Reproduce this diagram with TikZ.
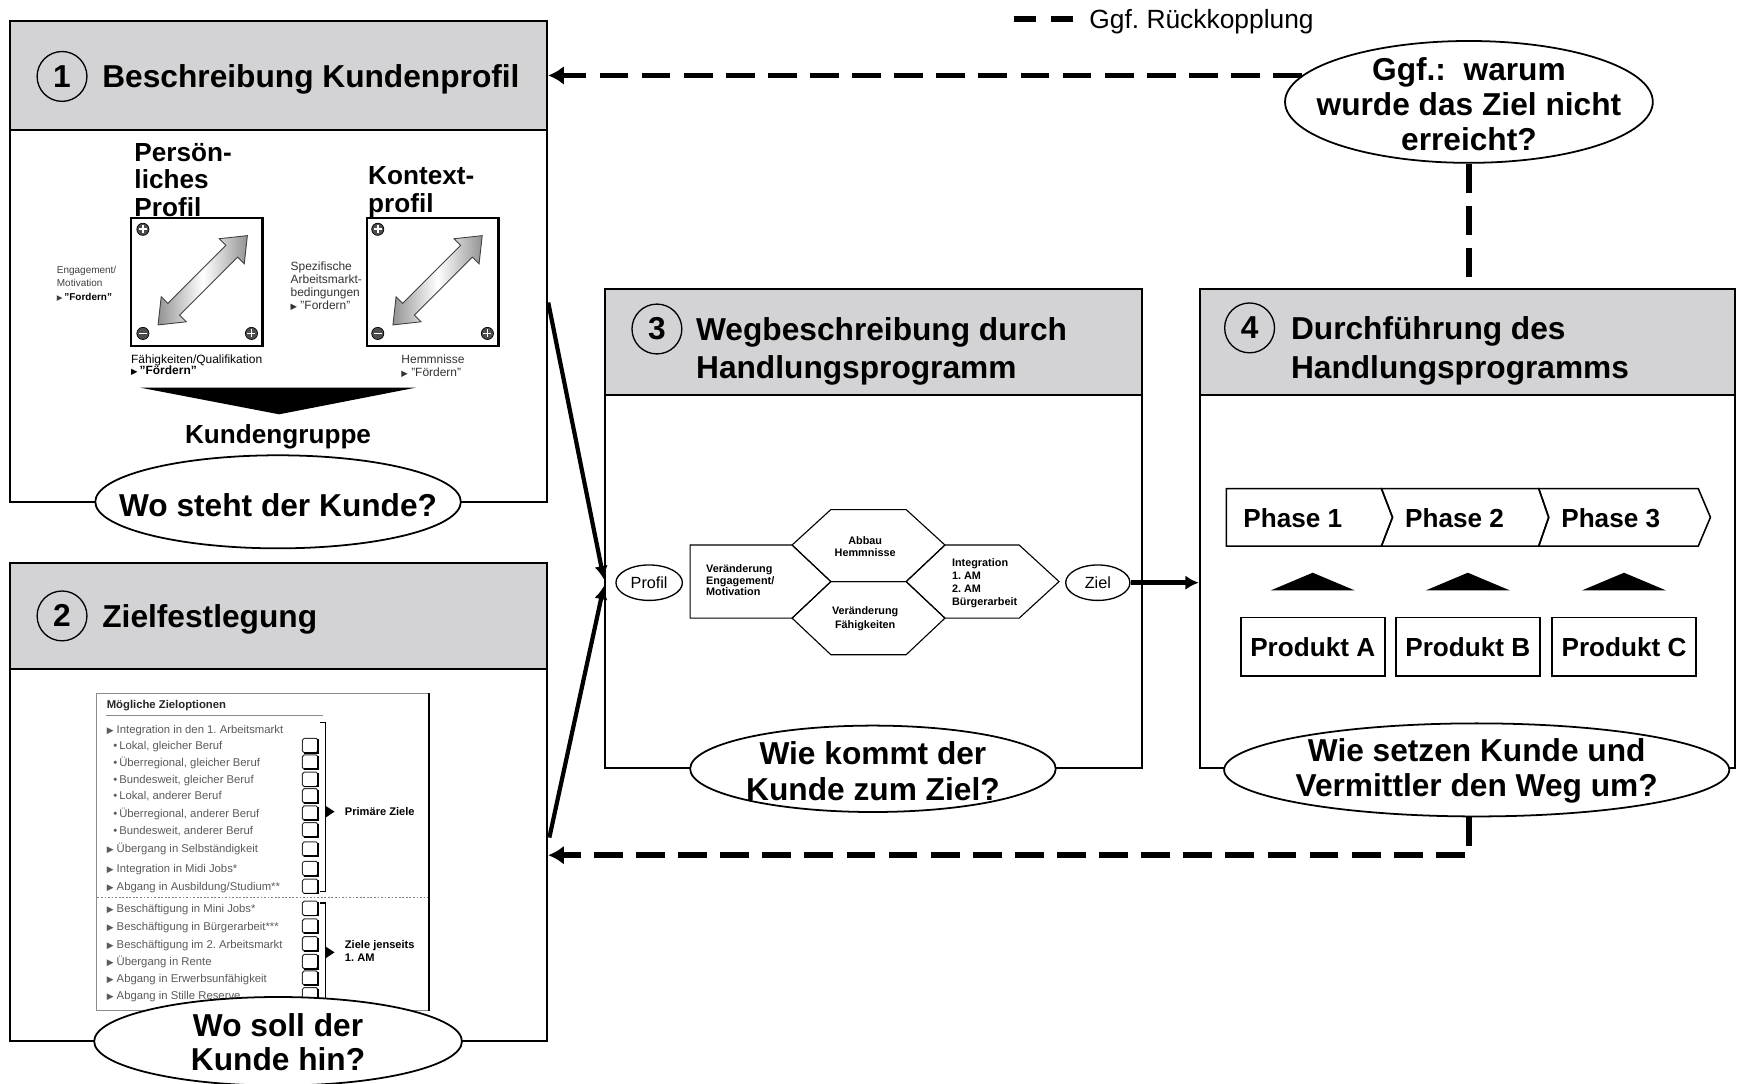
\documentclass[tikz,border=0pt]{standalone}
\usepackage{fontspec}
\setmainfont{Liberation Sans}
\newfontfamily\arrowglyphs{DejaVu Sans}
\usetikzlibrary{arrows.meta,shapes.geometric,fit,calc}
\definecolor{hdrgray}{RGB}{211,211,213}
\definecolor{listgray}{RGB}{90,90,90}
\newcommand\fs[2]{\fontsize{#1}{#2}\selectfont}
\newcommand\tri[1]{{\arrowglyphs\fontsize{#1}{#1}\selectfont ▶}}
\frenchspacing

\begin{document}
\begin{tikzpicture}[x=0.5pt,y=-0.5pt,
  panelbox/.style={draw, fill=white, line width=0.9pt, inner sep=0pt},
  hdrbox/.style={draw, fill=hdrgray, line width=0.9pt, inner sep=0pt},
  numc/.style={circle, draw, line width=0.6pt, minimum size=22.5pt, inner sep=0pt, font={\fs{14.3}{16}\bfseries}},
  ttl/.style={anchor=base west, align=left, inner sep=0pt, font={\fs{14.3}{17.5}\bfseries}},
  subttl/.style={anchor=base west, align=left, inner sep=0pt, font={\fs{11.8}{12.5}\bfseries}},
  qell/.style={ellipse, draw, fill=white, line width=0.8pt, inner sep=0pt},
  qtext/.style={align=center, inner sep=0pt, font={\fs{14.3}{16}\bfseries}},
  lbl/.style={anchor=base west, align=left, inner sep=0pt},
  clitem/.style={anchor=base west, inner sep=0pt, font={\fs{5.1}{6}}, text=listgray},
  cbx/.style={draw=black!80, line width=0.45pt, fill=white, rounded corners=0.8pt},
  hexline/.style={draw, line width=0.5pt},
  hextext/.style={inner sep=0pt, font={\fs{4.9}{5.5}\bfseries}},
  smallell/.style={ellipse, draw, line width=0.6pt, inner sep=0pt, minimum width=30pt, minimum height=16pt, font={\fs{7.3}{8}}},
  chev/.style={draw, line width=0.7pt},
  phs/.style={anchor=base west, inner sep=0pt, font={\fs{11.8}{13}\bfseries}},
  prod/.style={draw, line width=0.8pt, minimum width=65pt, minimum height=26.5pt, inner sep=0pt, font={\fs{11.8}{13}\bfseries}},
  fbline/.style={line width=2.5pt, dash pattern=on 13pt off 6pt},
  fbtip/.style={-{Latex[length=7pt,width=8.5pt]}},
  solidarr/.style={line width=1.9pt, -{Latex[length=6pt,width=6pt]}},
  pluscirc/.pic={\fill[gray!60!black] (0,0) circle (5.5);
    \draw[line width=0.3pt] (0,0) circle (5.5);
    \draw[white, line width=0.8pt] (-3.6,0) -- (3.6,0) (0,-3.6) -- (0,3.6);},
  minuscirc/.pic={\fill[gray!60!black] (0,0) circle (5.5);
    \draw[line width=0.3pt] (0,0) circle (5.5);
    \draw[white, line width=0.8pt] (-3.6,0) -- (3.6,0);},
  dblarrow/.pic={\shade[left color=gray!85, right color=gray!85, middle color=white,
      draw=black!75, line width=0.4pt]
      (-57,0) -- (-37,16) -- (-37,7.5) -- (37,7.5) -- (37,16) -- (57,0)
      -- (37,-16) -- (37,-7.5) -- (-37,-7.5) -- (-37,-16) -- cycle;}
]
\useasboundingbox (0,0) rectangle (1568,978);

% legend
\coordinate (lg1) at (915,17);
\coordinate (lg2) at (970,17);
\draw[line width=2.5pt, dash pattern=on 10pt off 7pt] (lg1) -- (lg2);
\node[anchor=base west, inner sep=0pt, font={\fs{11.9}{14}}] (lgt) at (983,25.5) {Ggf. Rückkopplung};

% ---------- panel 1: customer profile
\node[panelbox, fit={(9,19)(494,453)}] (p1) {};
\node[hdrbox, fit={(9,19)(494,117)}] (h1) {};
\node[numc] (n1) at (56,69) {1};
\node[ttl] (t1) at (92,79) {Beschreibung Kundenprofil};

\node[subttl] (pp) at (121,195.5) {Persön-\\liches\\Profil};
\node[subttl] (kp) at (332,191.5) {Kontext-\\profil};

\node[draw, line width=1pt, inner sep=0pt, fit={(118,197)(237,312)}] (pb1) {};
\node[draw, line width=1pt, inner sep=0pt, fit={(331,197)(450,312)}] (pb2) {};
\pic[rotate=45] at (183,253) {dblarrow};
\pic[rotate=45] at (395,253) {dblarrow};
\pic at (129,207) {pluscirc};
\pic at (129,301) {minuscirc};
\pic at (227,301) {pluscirc};
\pic at (341,207) {pluscirc};
\pic at (341,301) {minuscirc};
\pic at (440,301) {pluscirc};

\node[lbl, font={\fs{4.5}{6}}, text=black!75] (lb1) at (51,271) {Engagement/\\Motivation\\\tri{3.4}\,\textcolor{black}{\textbf{"Fordern"}}};
\node[lbl, font={\fs{5.4}{5.8}}, text=black!80] (lb2) at (262,279) {Spezifische\\Arbeitsmarkt-\\bedingungen\\\tri{3.8}\ "Fordern"};
\node[lbl, font={\fs{5.4}{5.1}}] (lb3) at (118,338) {Fähigkeiten/Qualifikation\\\tri{3.8}\,\textbf{"Fördern"}};
\node[lbl, font={\fs{5.4}{5.8}}, text=black!80] (lb4) at (362,339.5) {Hemmnisse\\\tri{3.8}\ "Fördern"};

\fill (127,350) -- (375,350) -- (252,374) -- cycle;
\node[subttl, anchor=base] (kg) at (251,400.5) {Kundengruppe};
\node[qell, minimum width=165pt, minimum height=42pt] (q1) at (251,453) {};
\node[qtext] (q1t) at (251,456) {Wo steht der Kunde?};

% ---------- panel 2: goal setting
\node[panelbox, fit={(9,508)(494,940)}] (p2) {};
\node[hdrbox, fit={(9,508)(494,604)}] (h2) {};
\node[numc] (n2) at (56,556) {2};
\node[ttl] (t2) at (92,566) {Zielfestlegung};

\node[draw=black!45, line width=0.4pt, inner sep=0pt, fill=white, fit={(87,626)(387,912)}] (cl) {};
\draw[line width=1pt] (cl.north east) -- (cl.south east);
\node[anchor=base west, inner sep=0pt, font={\fs{5.1}{6}\bfseries}, text=black!85] (clt) at (96,639.5) {Mögliche Zieloptionen};
\draw[black!45, line width=0.5pt] (96,646) -- (292,646);

\node[clitem] (c1) at (96,662) {\tri{4} Integration in den 1. Arbeitsmarkt};
\node[clitem] (c2) at (102,677) {•\,Lokal, gleicher Beruf};
\node[clitem] (c3) at (102,691.5) {•\,Überregional, gleicher Beruf};
\node[clitem] (c4) at (102,707) {•\,Bundesweit, gleicher Beruf};
\node[clitem] (c5) at (102,722) {•\,Lokal, anderer Beruf};
\node[clitem] (c6) at (102,738) {•\,Überregional, anderer Beruf};
\node[clitem] (c7) at (102,753) {•\,Bundesweit, anderer Beruf};
\node[clitem] (c8) at (96,770) {\tri{4} Übergang in Selbständigkeit};
\node[clitem] (c9) at (96,787.5) {\tri{4} Integration in Midi Jobs*};
\node[clitem] (c10) at (96,803.5) {\tri{4} Abgang in Ausbildung/Studium**};
\node[clitem] (c11) at (96,823.5) {\tri{4} Beschäftigung in Mini Jobs*};
\node[clitem] (c12) at (96,840) {\tri{4} Beschäftigung in Bürgerarbeit***};
\node[clitem] (c13) at (96,856) {\tri{4} Beschäftigung im 2. Arbeitsmarkt};
\node[clitem] (c14) at (96,871.5) {\tri{4} Übergang in Rente};
\node[clitem] (c15) at (96,887) {\tri{4} Abgang in Erwerbsunfähigkeit};
\node[clitem] (c16) at (96,902) {\tri{4} Abgang in Stille Reserve};

\draw[black!50, line width=0.5pt, dash pattern=on 0.8pt off 0.8pt] (88,810) -- (386,810);

\foreach \y in {673,688,703.5,718.5,734,749,766.5,784,800,820,836,852,868,883,898}{
  \draw[cbx] (273,\y-6.5) rectangle (287,\y+6.5);
  \draw[line width=0.8pt] (274,\y+6.5) -- (287,\y+6.5) -- (287,\y-5.5);
}

\draw[line width=0.6pt] (289,652) -- (294,652) -- (294,805) -- (289,805);
\fill (294,727.5) -- (302,732.7) -- (294,738) -- cycle;
\node[anchor=base west, inner sep=0pt, font={\fs{5}{6}\bfseries}] (pz) at (311,736.3) {Primäre Ziele};
\draw[line width=0.6pt] (289,815) -- (294,815) -- (294,912);
\fill (294,854.5) -- (302,859.7) -- (294,865) -- cycle;
\node[anchor=base west, align=left, inner sep=0pt, font={\fs{5}{6}\bfseries}] (zj) at (311,868) {Ziele jenseits\\1. AM};

\node[qell, minimum width=166pt, minimum height=40pt] (q2) at (251,940) {};
\node[qtext, font={\fs{14.3}{15.5}\bfseries}] (q2t) at (251,941) {Wo soll der\\Kunde hin?};

% ---------- panel 3: route via action programme
\node[panelbox, fit={(546,261)(1031,693)}] (p3) {};
\node[hdrbox, fit={(546,261)(1031,357)}] (h3) {};
\node[numc] (n3) at (593,297) {3};
\node[ttl] (t3) at (628,342) {Wegbeschreibung durch\\Handlungsprogramm};

\draw[hexline] (623,492) -- (715,492) -- (750,525) -- (715,558) -- (623,558) -- cycle;
\draw[hexline] (715,492) -- (750,460) -- (818,460) -- (853,492) -- (818,525) -- (750,525) -- cycle;
\draw[hexline] (715,558) -- (750,525) -- (818,525) -- (853,558) -- (818,591) -- (750,591) -- cycle;
\draw[hexline] (818,525) -- (853,492) -- (920,492) -- (956,525) -- (920,558) -- (853,558) -- cycle;

\node[hextext, align=center, anchor=base] (hx1) at (781,502.5) {Abbau\\Hemmnisse};
\node[hextext, align=left, anchor=base west, font={\fs{4.9}{5.1}\bfseries}] (hx2) at (637,537.5) {Veränderung\\Engagement/\\Motivation};
\node[hextext, align=center, anchor=base, font={\fs{4.9}{6.3}\bfseries}] (hx3) at (781,567.5) {Veränderung\\Fähigkeiten};
\node[hextext, align=left, anchor=base west, font={\fs{4.9}{6}\bfseries}] (hx4) at (859,547) {Integration\\1. AM\\2. AM\\Bürgerarbeit};

\node[smallell] (pr) at (586,526) {Profil};
\node[smallell, minimum width=29pt] (zl) at (991,526) {Ziel};

\node[qell, minimum width=165pt, minimum height=39pt] (q3) at (788,694) {};
\node[qtext] (q3t) at (788,696) {Wie kommt der\\Kunde zum Ziel?};

% ---------- panel 4: carrying out the programme
\node[panelbox, fit={(1083,261)(1566,693)}] (p4) {};
\node[hdrbox, fit={(1083,261)(1566,357)}] (h4) {};
\node[numc] (n4) at (1128,296) {4};
\node[ttl] (t4) at (1165,341.5) {Durchführung des\\Handlungsprogramms};

\draw[chev] (1107,441) -- (1247,441) -- (1257,467) -- (1247,493) -- (1107,493) -- cycle;
\draw[chev] (1247,441) -- (1389,441) -- (1398,467) -- (1389,493) -- (1247,493) -- (1257,467) -- cycle;
\draw[chev] (1389,441) -- (1533,441) -- (1544,467) -- (1533,493) -- (1389,493) -- (1398,467) -- cycle;
\node[phs] (ph1) at (1122,476.5) {Phase 1};
\node[phs] (ph2) at (1268,476.5) {Phase 2};
\node[phs] (ph3) at (1409,476.5) {Phase 3};

\fill (1147,533) -- (1185,517) -- (1223,533) -- cycle;
\fill (1287,533) -- (1325,517) -- (1363,533) -- cycle;
\fill (1428,533) -- (1466,517) -- (1504,533) -- cycle;

\node[prod] (pa) at (1185,584) {Produkt A};
\node[prod] (pb) at (1325,584) {Produkt B};
\node[prod] (pc) at (1466,584) {Produkt C};

\node[qell, minimum width=228pt, minimum height=42pt] (q4) at (1333,695) {};
\node[qtext] (q4t) at (1333,696) {Wie setzen Kunde und\\Vermittler den Weg um?};

% ---------- feedback question
\node[qell, minimum width=166pt, minimum height=55pt] (fb) at (1326,92) {};
\node[qtext] (fbt) at (1326,94) {Ggf.:~~warum\\wurde das Ziel nicht\\erreicht?};

% ---------- connectors
\draw[fbline, fbtip] (fb.171.7) -- (fb.171.7 -| h1.east);
\draw[fbline] (fb.south) -- (fb.south |- h4.north);
\coordinate (fbturn) at (1326,772);
\draw[fbline, fbtip] (q4.south -| fb.south) -- (fbturn) -- (fbturn -| p2.east);

\coordinate (o1) at ($(p1.north east)+(0,255)$);
\coordinate (o2) at ($(p2.north east)+(1,249)$);
\coordinate (i1) at ($(p3.west |- pr)+(0,-3)$);
\coordinate (i2) at ($(p3.west |- pr)+(0,3)$);
\draw[solidarr] (o1) -- (i1);
\draw[solidarr] (o2) -- (i2);
\draw[line width=2pt, -{Latex[length=6pt,width=6.5pt]}] (zl) -- (zl -| p4.west);
\end{tikzpicture}
\end{document}
